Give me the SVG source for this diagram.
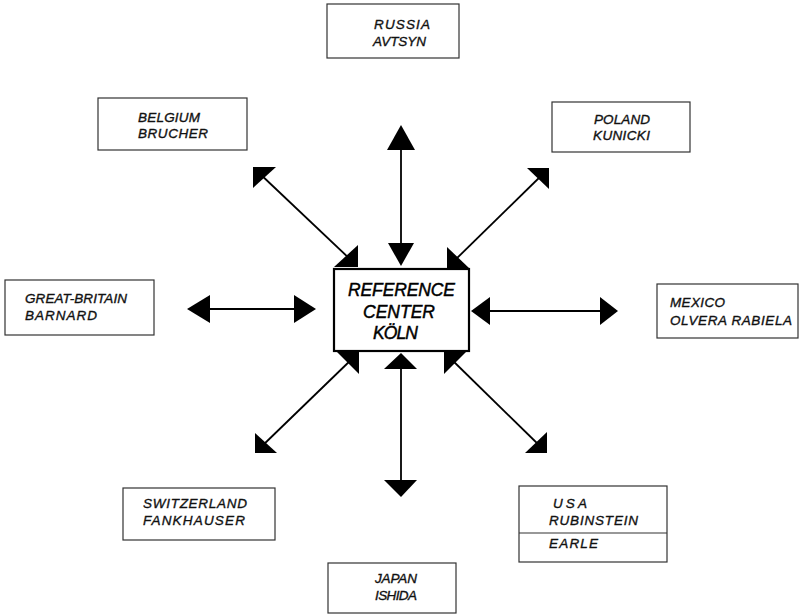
<svg xmlns="http://www.w3.org/2000/svg" width="799" height="616" viewBox="0 0 799 616">
  <style>
    .box { fill: #fff; stroke: #333; stroke-width: 1.2; }
    .center { fill: #fff; stroke: #000; stroke-width: 2.2; }
    .lbl { font-family: "Liberation Sans", Arial, sans-serif; font-style: italic; font-size: 13.5px; fill: #111; stroke: #111; stroke-width: 0.35; }
    .big { font-family: "Liberation Sans", Arial, sans-serif; font-style: italic; font-size: 17.5px; fill: #000; stroke: #000; stroke-width: 0.45; }
    .shaft { stroke: #000; stroke-width: 1.8; fill: none; }
    .head { fill: #000; }
  </style>
  <rect width="799" height="616" fill="#fff"/>

  <!-- connectors: double-headed arrows radiating from the center -->
  <g id="connectors">
    <!-- north -->
    <line class="shaft" x1="401" y1="145" x2="401" y2="248"/>
    <polygon class="head" points="401,125 387,150 415,150"/>
    <polygon class="head" points="401,266 388,243 414,243"/>
    <!-- south -->
    <line class="shaft" x1="401" y1="365" x2="401" y2="484"/>
    <polygon class="head" points="401,353 384,369 417,369"/>
    <polygon class="head" points="401,497 384,480 417,480"/>
    <!-- west -->
    <line class="shaft" x1="205" y1="309" x2="298" y2="309"/>
    <polygon class="head" points="187,309 210,295 210,323"/>
    <polygon class="head" points="316,309 294,295 294,323"/>
    <!-- east -->
    <line class="shaft" x1="486" y1="311" x2="604" y2="311"/>
    <polygon class="head" points="471,311 490,297 490,325"/>
    <polygon class="head" points="618,311 600,297 600,325"/>
    <!-- north-west -->
    <line class="shaft" x1="258" y1="172" x2="352" y2="261"/>
    <polygon class="head" points="253,167 276,167 253,188"/>
    <polygon class="head" points="358,267 358,245 334,267"/>
    <!-- north-east -->
    <line class="shaft" x1="544" y1="173" x2="452" y2="263"/>
    <polygon class="head" points="549,168 527,168 549,189"/>
    <polygon class="head" points="447,268 447,247 469,268"/>
    <!-- south-west -->
    <line class="shaft" x1="354" y1="357" x2="260" y2="448"/>
    <polygon class="head" points="359,352 337,352 359,374"/>
    <polygon class="head" points="255,453 255,433 277,453"/>
    <!-- south-east -->
    <line class="shaft" x1="449" y1="357" x2="542" y2="448"/>
    <polygon class="head" points="444,352 466,352 444,374"/>
    <polygon class="head" points="547,453 547,432 525,453"/>
  </g>

  <g id="center">
    <rect class="center" x="334" y="269" width="135" height="82"/>
    <text class="big" x="348" y="296" textLength="107" lengthAdjust="spacing">REFERENCE</text>
    <text class="big" x="363" y="318" textLength="72" lengthAdjust="spacing">CENTER</text>
    <text class="big" x="373" y="339" textLength="45" lengthAdjust="spacing">KÖLN</text>
  </g>

  <g id="russia">
    <rect class="box" x="327" y="4" width="132" height="54"/>
    <text class="lbl" x="374" y="29" textLength="56" lengthAdjust="spacing">RUSSIA</text>
    <text class="lbl" x="373" y="46" textLength="53" lengthAdjust="spacing">AVTSYN</text>
  </g>

  <g id="belgium">
    <rect class="box" x="98" y="98" width="149" height="52"/>
    <text class="lbl" x="138" y="122" textLength="62" lengthAdjust="spacing">BELGIUM</text>
    <text class="lbl" x="138" y="138" textLength="70" lengthAdjust="spacing">BRUCHER</text>
  </g>

  <g id="poland">
    <rect class="box" x="552" y="102" width="138" height="50"/>
    <text class="lbl" x="594" y="124" textLength="56" lengthAdjust="spacing">POLAND</text>
    <text class="lbl" x="593" y="140" textLength="57" lengthAdjust="spacing">KUNICKI</text>
  </g>

  <g id="great-britain">
    <rect class="box" x="5" y="280" width="149" height="55"/>
    <text class="lbl" x="25" y="303" textLength="102" lengthAdjust="spacing">GREAT-BRITAIN</text>
    <text class="lbl" x="25" y="320" textLength="72" lengthAdjust="spacing">BARNARD</text>
  </g>

  <g id="mexico">
    <rect class="box" x="657" y="284" width="141" height="54"/>
    <text class="lbl" x="670" y="307" textLength="55" lengthAdjust="spacing">MEXICO</text>
    <text class="lbl" x="670" y="325" textLength="122" lengthAdjust="spacing">OLVERA RABIELA</text>
  </g>

  <g id="switzerland">
    <rect class="box" x="123" y="488" width="152" height="52"/>
    <text class="lbl" x="143" y="508" textLength="104" lengthAdjust="spacing">SWITZERLAND</text>
    <text class="lbl" x="143" y="525" textLength="102" lengthAdjust="spacing">FANKHAUSER</text>
  </g>

  <g id="usa">
    <rect class="box" x="519" y="486" width="148" height="76"/>
    <line class="box" x1="519" y1="533" x2="667" y2="533"/>
    <text class="lbl" x="553" y="508" textLength="34" lengthAdjust="spacing">USA</text>
    <text class="lbl" x="549" y="525" textLength="89" lengthAdjust="spacing">RUBINSTEIN</text>
    <text class="lbl" x="549" y="548" textLength="49" lengthAdjust="spacing">EARLE</text>
  </g>

  <g id="japan">
    <rect class="box" x="328" y="563" width="128" height="50"/>
    <text class="lbl" x="375" y="583" textLength="42" lengthAdjust="spacing">JAPAN</text>
    <text class="lbl" x="375" y="600" textLength="42" lengthAdjust="spacing">ISHIDA</text>
  </g>
</svg>
